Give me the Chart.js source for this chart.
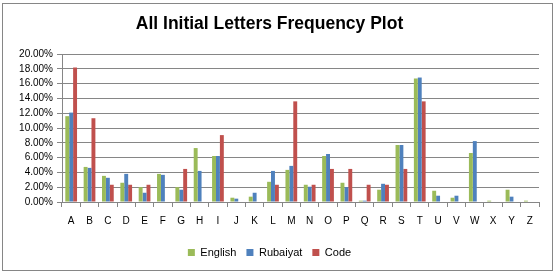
<!DOCTYPE html>
<html>
<head>
<meta charset="utf-8">
<script src="https://cdn.jsdelivr.net/npm/chart.js@4"></script>
<style>
  body { margin: 0; background: #fff; }
  #wrap { width: 556px; height: 274px; }
</style>
</head>
<body>
<div id="wrap"><canvas id="myChart" width="556" height="274"></canvas></div>
<script>
const letters = ['A','B','C','D','E','F','G','H','I','J','K','L','M','N','O','P','Q','R','S','T','U','V','W','X','Y','Z'];
const english  = [11.6, 4.74, 3.53, 2.6, 2.01, 3.8, 2.01, 7.29, 6.22, 0.58, 0.72, 2.73, 4.34, 2.33, 6.22, 2.6, 0.18, 1.66, 7.7, 16.69, 1.52, 0.58, 6.62, 0.18, 1.66, 0.18];
const rubaiyat = [12.08, 4.61, 3.27, 3.8, 1.25, 3.67, 1.66, 4.2, 6.22, 0.45, 1.25, 4.2, 4.88, 2.06, 6.49, 2.01, 0.18, 2.46, 7.7, 16.82, 0.85, 0.85, 8.23, 0, 0.72, 0];
const code     = [18.17, 11.32, 2.33, 2.33, 2.33, 0, 4.47, 0, 9.04, 0, 0, 2.33, 13.6, 2.33, 4.47, 4.47, 2.33, 2.33, 4.47, 13.6, 0, 0, 0, 0, 0, 0];

const gridGray = '#868686';

// white background + outer frame like the spreadsheet chart
const frame = {
  id: 'frame',
  beforeDraw(chart) {
    const c = chart.ctx;
    c.save();
    c.fillStyle = '#fff';
    c.fillRect(0, 0, chart.width, chart.height);
    c.strokeStyle = gridGray;
    c.lineWidth = 1;
    c.strokeRect(2.5, 3.5, 550, 267);
    c.restore();
  }
};

const ctx = document.getElementById('myChart').getContext('2d');
const myChart = new Chart(ctx, {
  type: 'bar',
  data: {
    labels: letters,
    datasets: [
      { label: 'English', data: english, backgroundColor: '#9BBB59' },
      { label: 'Rubaiyat', data: rubaiyat, backgroundColor: '#4F81BD' },
      { label: 'Code', data: code, backgroundColor: '#C0504D' },
    ],
  },
  options: {
    responsive: false,
    animation: false,
    layout: { padding: { left: 0, right: 17, top: 0, bottom: 6 } },
    datasets: { bar: { barPercentage: 1, categoryPercentage: 0.64 } },
    plugins: {
      title: {
        display: true,
        text: 'All Initial Letters Frequency Plot',
        color: '#000',
        font: { family: '"Liberation Sans", sans-serif', size: 17.5, weight: 'bold' },
        padding: { top: 14, bottom: 19 },
      },
      legend: {
        position: 'bottom',
        labels: {
          color: '#000',
          boxWidth: 7,
          boxHeight: 7,
          padding: 10,
          font: { family: '"Liberation Sans", sans-serif', size: 11 },
        },
      },
      tooltip: { enabled: false },
    },
    scales: {
      x: {
        grid: { display: true, drawOnChartArea: false, color: gridGray, tickLength: 5, offset: true },
        border: { color: gridGray },
        ticks: { color: '#000', font: { family: '"Liberation Sans", sans-serif', size: 10 }, maxRotation: 0, autoSkip: false, padding: 8 },
        afterFit(scale) { scale.height = 35; },
      },
      y: {
        min: 0,
        max: 20,
        grid: { color: gridGray, tickLength: 5 },
        border: { color: gridGray },
        ticks: {
          stepSize: 2,
          autoSkip: false,
          color: '#000',
          padding: 4,
          font: { family: '"Liberation Sans", sans-serif', size: 10 },
          callback: v => v.toFixed(2) + '%',
        },
        afterFit(scale) { scale.width = 62; },
      },
    },
  },
  plugins: [frame],
});
</script>
</body>
</html>
